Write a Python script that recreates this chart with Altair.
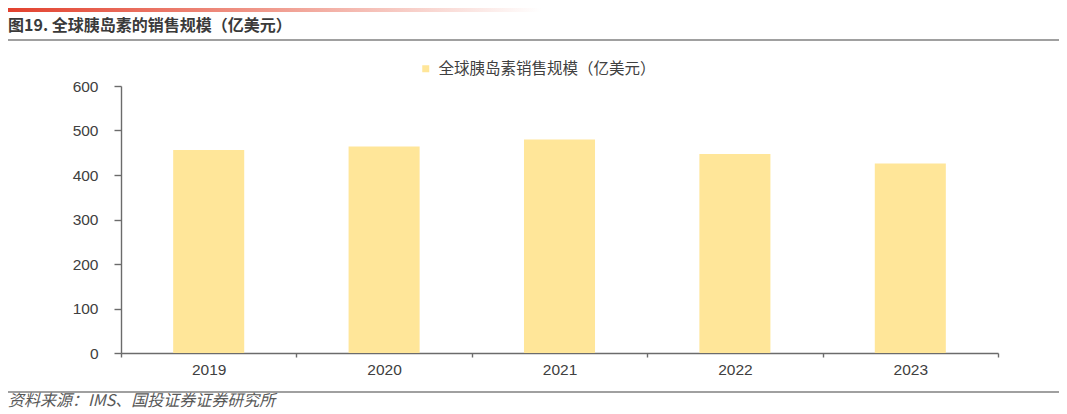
import altair as alt
import pandas as pd

years = ["2019", "2020", "2021", "2022", "2023"]
sales = [456, 464, 480, 447, 426]
series_name = "全球胰岛素销售规模（亿美元）"
title_text = "图19. 全球胰岛素的销售规模（亿美元）"
source_text = "资料来源：IMS、国投证券证券研究所"
y_ticks = [0, 100, 200, 300, 400, 500, 600]

df = pd.DataFrame({"year": years, "sales": sales, "series": [series_name] * len(years)})
one = pd.DataFrame({"k": [0]})

CJK = "Noto Sans CJK SC"
NUM = "Liberation Sans"
AXIS_COLOR = "#6b6b6b"

bars = alt.Chart(df).mark_bar(width=alt.RelativeBandSize(0.405)).encode(
    x=alt.X("year:N", sort=years, title=None,
            scale=alt.Scale(paddingInner=0, paddingOuter=0),
            axis=alt.Axis(labelAngle=0, tickBand="extent", tickSize=4, tickColor=AXIS_COLOR,
                          domainColor=AXIS_COLOR, domainWidth=1.4, tickWidth=1.4,
                          labelFont=NUM, labelFontSize=15.5, labelColor="#404040",
                          labelPadding=5, grid=False)),
    y=alt.Y("sales:Q", title=None,
            scale=alt.Scale(domain=[0, 600], nice=False),
            axis=alt.Axis(values=y_ticks, tickSize=7, tickColor=AXIS_COLOR, tickWidth=1.4,
                          domainColor=AXIS_COLOR, domainWidth=1.4,
                          labelFont=NUM, labelFontSize=15.5, labelColor="#404040",
                          labelPadding=16, grid=False)),
    color=alt.Color("series:N", title=None,
                    scale=alt.Scale(range=["#FFE699"]),
                    legend=alt.Legend(orient="none", legendX=297, legendY=-25,
                                      symbolType="square", symbolSize=49, symbolStrokeWidth=0,
                                      labelFont=CJK, labelFontSize=15.5, labelColor="#404040",
                                      labelOffset=5, padding=0, symbolOffset=0, labelLimit=600)),
)

red_bar = alt.Chart(one).mark_rect(
    fill=alt.Gradient(gradient="linear",
                      stops=[alt.GradientStop(color="#E2412E", offset=0),
                             alt.GradientStop(color="#F09C8F", offset=0.5),
                             alt.GradientStop(color="#FFFFFF", offset=1)],
                      x1=0, x2=1, y1=0, y2=0)
).encode(x=alt.value(-113), x2=alt.value(420), y=alt.value(-78), y2=alt.value(-74))

top_line = alt.Chart(one).mark_rule(color="#808080", strokeWidth=1.6).encode(
    x=alt.value(-113), x2=alt.value(938), y=alt.value(-46))

bottom_line = alt.Chart(one).mark_rule(color="#808080", strokeWidth=1.4).encode(
    x=alt.value(-113), x2=alt.value(938), y=alt.value(306))

title = alt.Chart(one).mark_text(
    text=title_text, font=CJK, fontSize=16, fontWeight="bold", color="#3a3a3a",
    align="left", baseline="middle"
).encode(x=alt.value(-113), y=alt.value(-60))

footer = alt.Chart(one).mark_text(
    text=source_text, font=CJK, fontSize=16, fontStyle="italic", color="#595959",
    align="left", baseline="middle"
).encode(x=alt.value(-113), y=alt.value(315))

chart = alt.layer(red_bar, top_line, bottom_line, title, footer, bars).properties(
    width=877, height=267,
    autosize=alt.AutoSizeParams(type="none"),
    padding={"left": 113, "top": 78, "right": 61, "bottom": 61},
).configure_view(stroke=None)

chart.save("out.html", embed_options={"renderer": "svg", "actions": False})
